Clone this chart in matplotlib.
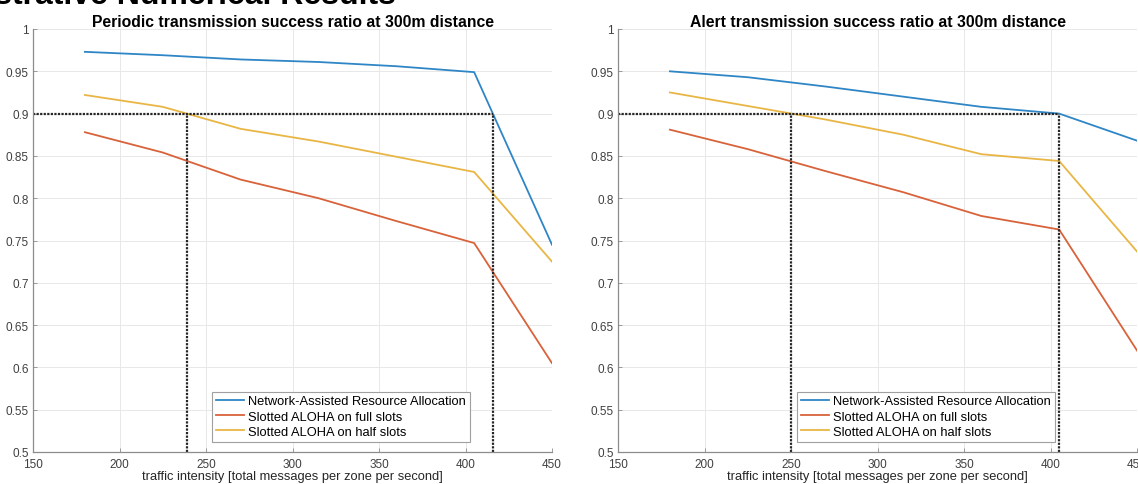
import numpy as np
import matplotlib
matplotlib.use("Agg")
import matplotlib.pyplot as plt

plt.rcParams['font.family'] = ['Liberation Sans', 'DejaVu Sans']

# traffic intensity points
traffic = [180, 225, 270, 315, 360, 405, 450]

# periodic transmissions (left)
periodic_nara = [0.973, 0.969, 0.964, 0.961, 0.956, 0.949, 0.745]
periodic_full = [0.878, 0.854, 0.822, 0.800, 0.773, 0.747, 0.605]
periodic_half = [0.922, 0.908, 0.882, 0.867, 0.849, 0.831, 0.725]

# alert transmissions (right)
alert_nara = [0.950, 0.943, 0.932, 0.920, 0.908, 0.900, 0.868]
alert_full = [0.881, 0.858, 0.832, 0.807, 0.779, 0.763, 0.620]
alert_half = [0.925, 0.909, 0.893, 0.875, 0.852, 0.844, 0.737]

# 0.9 threshold crossings (dotted guides)
target = 0.9
periodic_cross = [239, 416]
alert_cross = [250, 405]

labels = ["Network-Assisted Resource Allocation",
          "Slotted ALOHA on full slots",
          "Slotted ALOHA on half slots"]
titles = ["Periodic transmission success ratio at 300m distance",
          "Alert transmission success ratio at 300m distance"]
colors = ["#2f86c6", "#d8623a", "#e9b645"]
xticks = [150, 200, 250, 300, 350, 400, 450]
yticks = [0.5, 0.55, 0.6, 0.65, 0.7, 0.75, 0.8, 0.85, 0.9, 0.95, 1]

fig = plt.figure(figsize=(11.38, 4.85), dpi=100)
ax1 = fig.add_axes([33/1138, 32/485, 519/1138, 423/485])
ax2 = fig.add_axes([618/1138, 32/485, 519/1138, 423/485])

panels = [(ax1, [periodic_nara, periodic_full, periodic_half], periodic_cross, titles[0]),
          (ax2, [alert_nara, alert_full, alert_half], alert_cross, titles[1])]

for ax, series, cross, title in panels:
    for vals, c, lab in zip(series, colors, labels):
        ax.plot(traffic, vals, color=c, lw=1.3, label=lab)
    # dotted guide lines
    ax.plot([150, cross[1]], [target, target], color='#262626', lw=1.6, ls=(0, (1, 0.6)))
    for xc in cross:
        ax.plot([xc, xc], [0.5, target], color='#262626', lw=1.6, ls=(0, (1, 0.6)))

    ax.set_xlim(150, 450)
    ax.set_ylim(0.5, 1)
    ax.set_xticks(xticks)
    ax.set_yticks(yticks)
    ax.set_xticklabels([str(t) for t in xticks])
    ax.set_yticklabels(['0.5', '0.55', '0.6', '0.65', '0.7', '0.75', '0.8',
                        '0.85', '0.9', '0.95', '1'])
    ax.grid(True, color='#e8e8e8', lw=0.7)
    ax.set_axisbelow(True)
    for s in ['top', 'right']:
        ax.spines[s].set_visible(False)
    for s in ['left', 'bottom']:
        ax.spines[s].set_color('#8c8c8c')
        ax.spines[s].set_linewidth(0.9)
    ax.tick_params(direction='in', length=3, width=0.6, colors='#8c8c8c',
                   labelcolor='#404040', labelsize=8.5)
    ax.tick_params(axis='x', pad=4)
    ax.tick_params(axis='y', pad=3)
    ax.set_title(title, fontsize=11.3, fontweight='bold', pad=1.5)
    ax.set_xlabel("traffic intensity [total messages per zone per second]",
                  fontsize=9.3, color='#262626', labelpad=0.5)
    leg = ax.legend(loc='lower left', bbox_to_anchor=(0.345, 0.024), fontsize=9.3,
                    fancybox=False, edgecolor='#a0a0a0', framealpha=1,
                    handlelength=2.2, handletextpad=0.3, labelspacing=0.25,
                    borderpad=0.3, borderaxespad=0)
    leg.get_frame().set_linewidth(0.8)

# slide heading, cut off at the top of the screenshot
fig.text(396/1138, 1 - 4/485, "Illustrative Numerical Results", ha='right',
         va='baseline', fontsize=23, fontweight='bold', color='black')

fig.savefig("out.png", dpi=100)
